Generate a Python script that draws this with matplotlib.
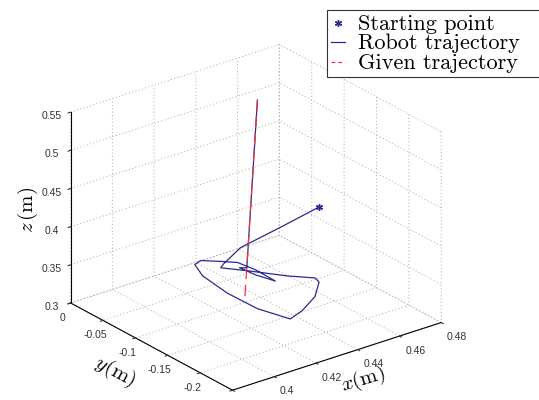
import numpy as np
import matplotlib.pyplot as plt
from matplotlib.ticker import FuncFormatter

plt.rcParams['axes.unicode_minus'] = False
plt.rcParams['mathtext.fontset'] = 'cm'
plt.rcParams['font.family'] = ['Liberation Sans', 'DejaVu Sans']
plt.rcParams['grid.color'] = '#a8a8a8'
plt.rcParams['grid.linestyle'] = (0, (1, 2.5))
plt.rcParams['grid.linewidth'] = 0.7

# robot trajectory (m)
robot_x = [0.465, 0.4508, 0.4362, 0.4285, 0.4275, 0.436, 0.445, 0.4522, 0.4511,
           0.4419, 0.4301, 0.422, 0.4179, 0.4175, 0.4197, 0.4236, 0.4277, 0.4337,
           0.4376, 0.4389, 0.4386, 0.4361, 0.4353, 0.437, 0.4427]
robot_y = [-0.109, -0.0956, -0.0814, -0.080, -0.0787, -0.0928, -0.125, -0.1448, -0.1545,
           -0.1779, -0.196, -0.2038, -0.1664, -0.1216, -0.076, -0.0512, -0.0473, -0.0618,
           -0.0723, -0.0955, -0.1273, -0.1047, -0.0826, -0.0884, -0.0864]
robot_z = [0.400, 0.380, 0.360, 0.345, 0.340, 0.335, 0.335, 0.335, 0.335,
           0.335, 0.335, 0.335, 0.335, 0.335, 0.335, 0.335, 0.335, 0.335,
           0.335, 0.335, 0.335, 0.335, 0.335, 0.336, 0.55]

# given trajectory
given_x = [0.436, 0.4427]
given_y = [-0.0887, -0.0864]
given_z = [0.30, 0.55]

x_ticks = [0.38, 0.40, 0.42, 0.44, 0.46, 0.48]
y_ticks = [-0.25, -0.2, -0.15, -0.1, -0.05, 0]
z_ticks = [0.3, 0.35, 0.4, 0.45, 0.5, 0.55]

fig = plt.figure(figsize=(5.39, 4.0), dpi=100)
ax = fig.add_subplot(projection='3d', proj_type='ortho')
ax.set_position([-0.0556, -0.0775, 1.04, 1.04])
ax.view_init(elev=24.7, azim=-127.8)
ax.set_box_aspect((1, 1, 0.795))

ax.plot(robot_x[:1], robot_y[:1], robot_z[:1], ls='none', marker=(6, 2, 0),
        ms=5, mew=1.0, color='#2a2a90', label='Starting point')
ax.plot(robot_x, robot_y, robot_z, color='#2a2a90', lw=0.9, label='Robot trajectory')
ax.plot(given_x, given_y, given_z, color='#ee3344', lw=0.9, ls=(0, (9, 4.5)),
        label='Given trajectory')

ax.set_xlim(0.38, 0.48)
ax.set_ylim(-0.25, 0)
ax.set_zlim(0.3, 0.55)
ax.set_xticks(x_ticks)
ax.set_yticks(y_ticks)
ax.set_zticks(z_ticks)
fmt = FuncFormatter(lambda v, p: '%g' % round(v, 3))
for axis in (ax.xaxis, ax.yaxis, ax.zaxis):
    axis.set_major_formatter(fmt)
    axis.set_pane_color((1, 1, 1, 0))
    axis.pane.set_edgecolor('none')
    axis.line.set_color('k')
    axis.line.set_linewidth(0.8)
    axis._axinfo['tick']['inward_factor'] = 0.15
    axis._axinfo['tick']['outward_factor'] = 0.0
ax.tick_params(labelsize=7.5, colors='#333333', pad=0)
ax.tick_params(axis='x', pad=-2.5)
ax.tick_params(axis='y', pad=-2)
for lab in ax.get_xticklabels():
    lab.set_ha('left')

fig.text(0.213, 0.07, r'$y(\mathrm{m})$', fontsize=15, rotation=-28, ha='center', va='center')
fig.text(0.673, 0.05, r'$x(\mathrm{m})$', fontsize=15, rotation=17, ha='center', va='center')
fig.text(0.052, 0.475, r'$z\,(\mathrm{m})$', fontsize=15, rotation=90, ha='center', va='center')

leg = fig.legend(loc='upper left', bbox_to_anchor=(0.6067, 0.975, 0.404, 0.0), mode='expand',
                 prop={'family': 'cmr10', 'size': 16}, frameon=True, fancybox=False,
                 edgecolor='k', handlelength=0.6, handletextpad=0.6, borderpad=0.2,
                 labelspacing=0.0, borderaxespad=0, handleheight=0.5)
leg.get_frame().set_linewidth(0.8)
leg.get_lines()[2].set_linestyle((0, (3, 2.5)))

fig.savefig('out.png', dpi=100)
